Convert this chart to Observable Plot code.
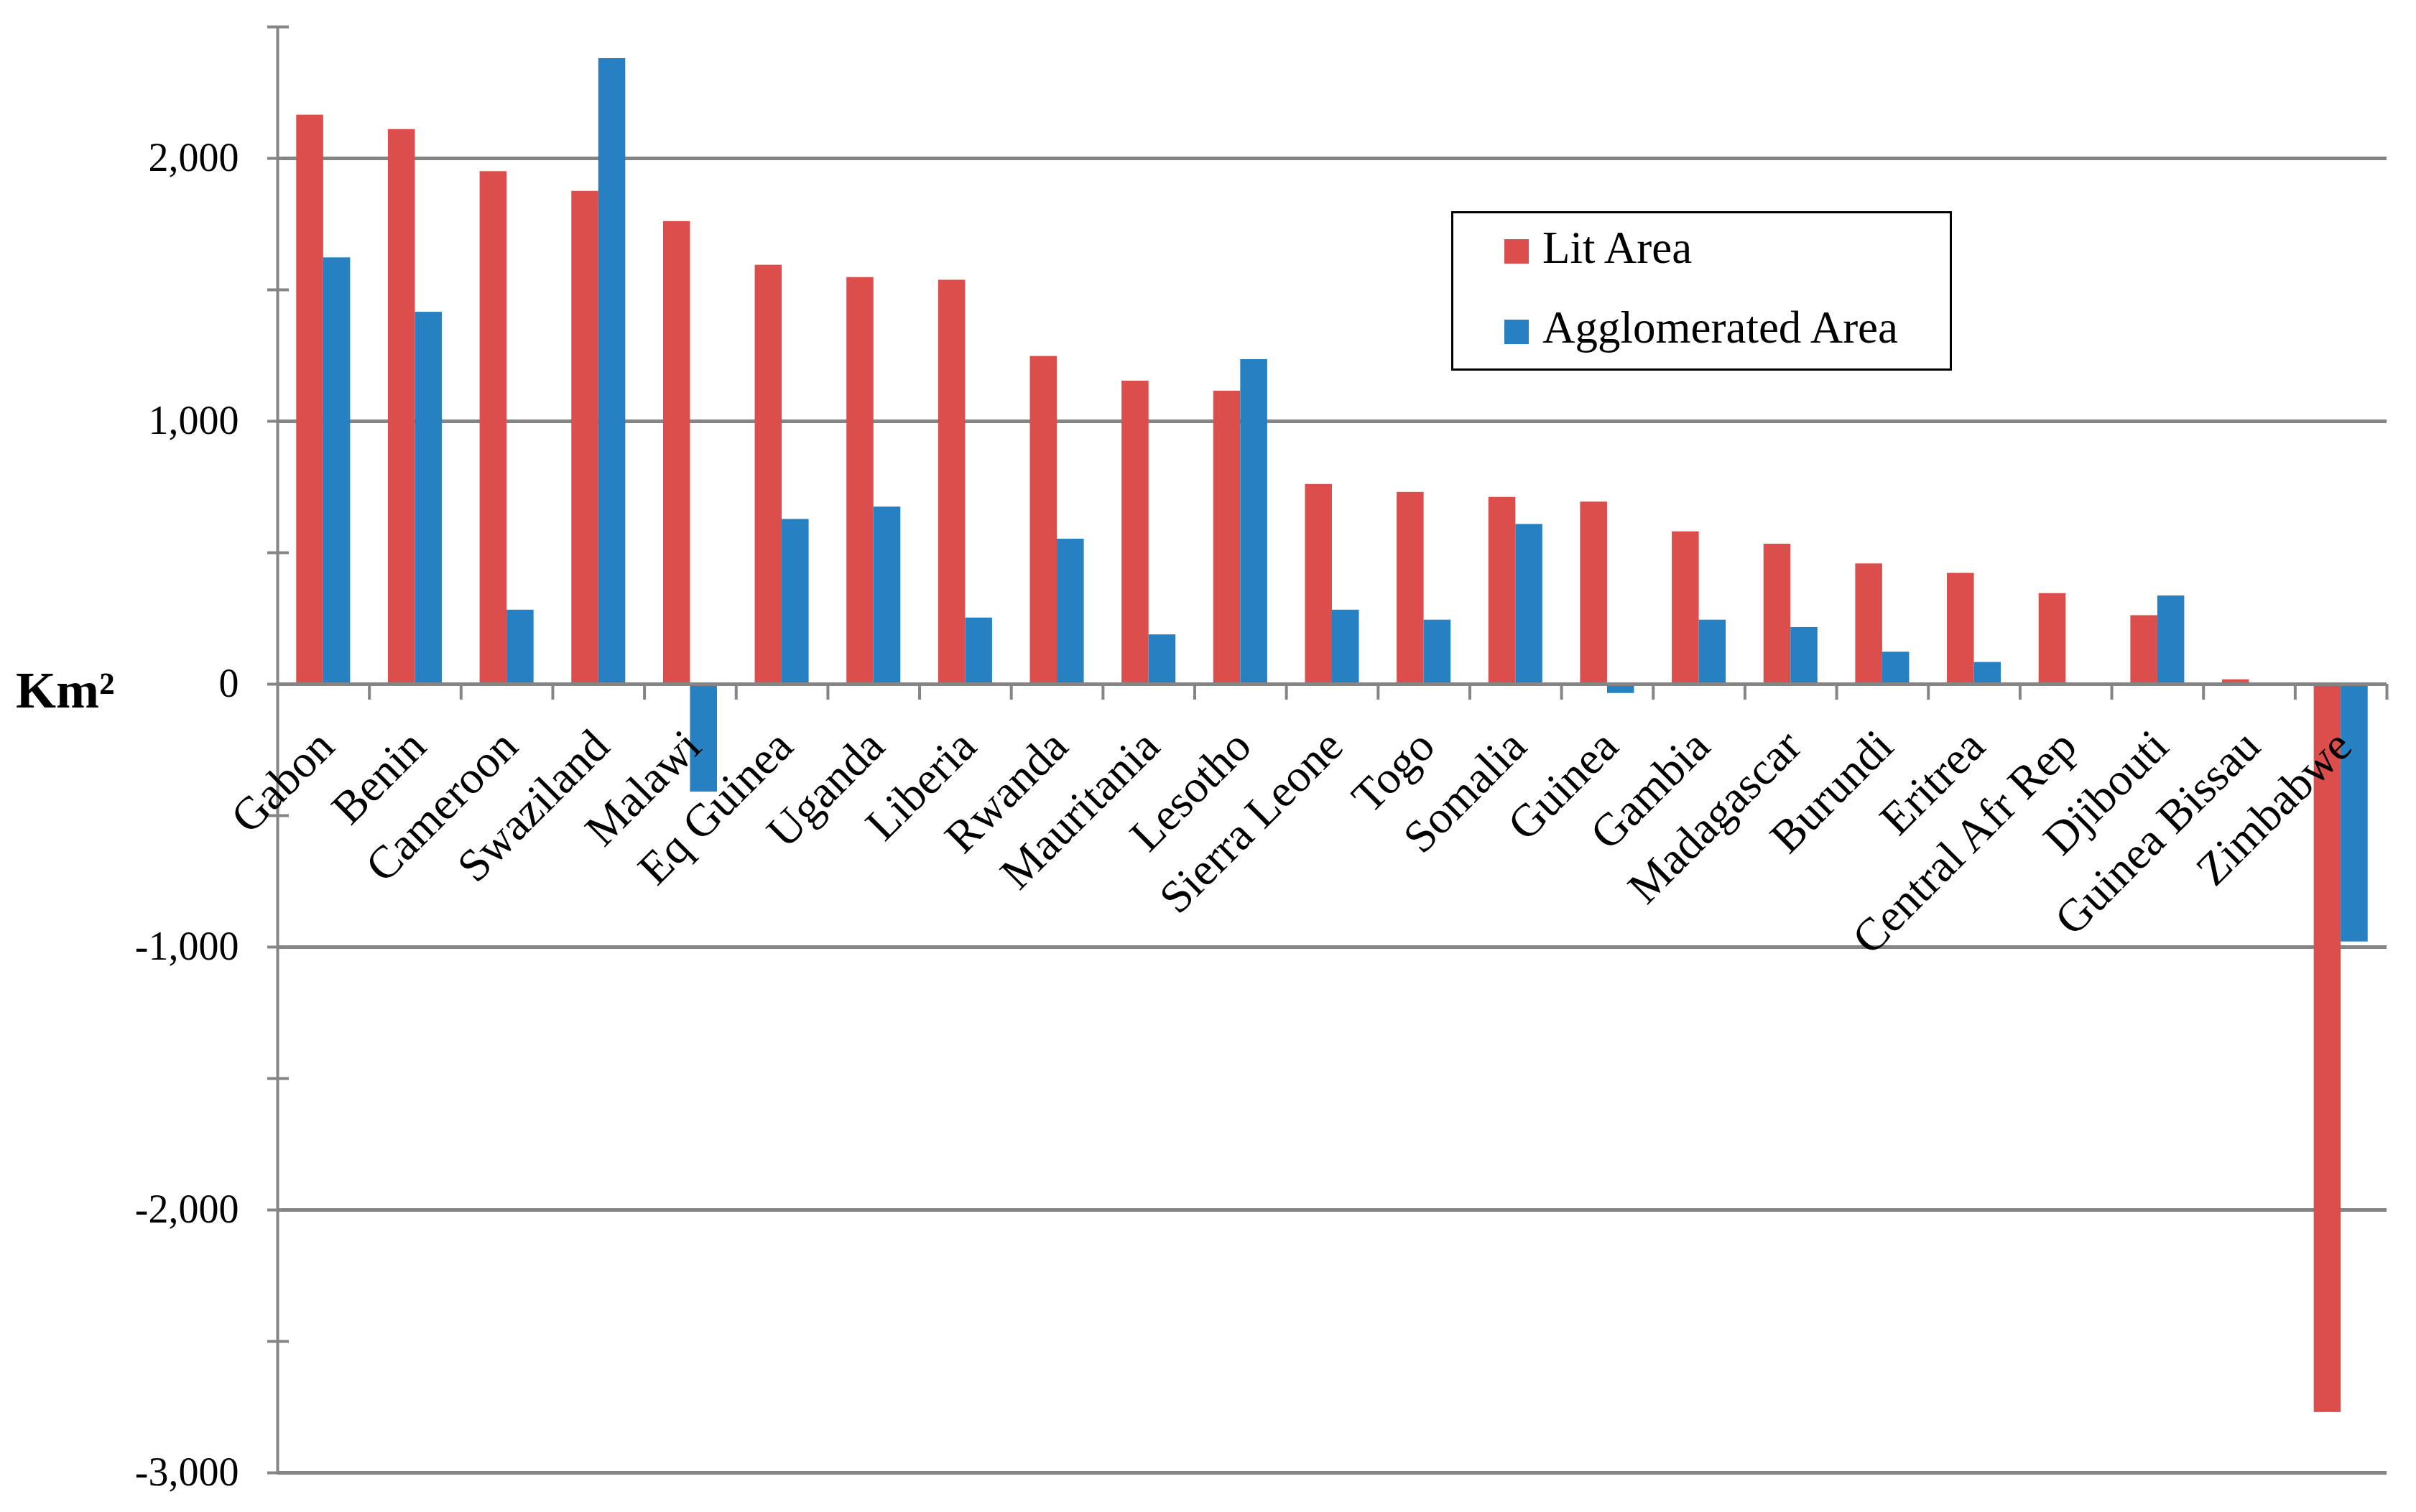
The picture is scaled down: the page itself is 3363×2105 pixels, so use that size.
<!DOCTYPE html>
<html>
<head>
<meta charset="utf-8">
<script src="https://cdn.jsdelivr.net/npm/d3@7"></script>
<script src="https://cdn.jsdelivr.net/npm/@observablehq/plot@0.6"></script>
<style>
html, body { margin: 0; padding: 0; background: #fff; overflow: hidden; }
#wrap { position: relative; width: 3363px; height: 2105px; }
#legend { position: absolute; left: 2020px; top: 294px; width: 697px; height: 222px; box-sizing: border-box;
  border: 3px solid #000; background: #fff; font-family: "Liberation Serif", serif; font-size: 63px; color: #000; }
.sw { position: absolute; left: 71px; width: 34px; height: 34px; }
.lab { position: absolute; left: 124px; line-height: 1; white-space: nowrap; }
#ylab { position: absolute; left: 22px; top: 925px; font-family: "Liberation Serif", serif; font-weight: bold;
  font-size: 72px; line-height: 1; color: #000; }
</style>
</head>
<body>
<div id="wrap">
  <div id="chart"></div>
  <div id="ylab">Km²</div>
  <div id="legend">
    <div class="sw" style="top:36px;background:#DB4E4B"></div>
    <div class="lab" style="top:17px">Lit Area</div>
    <div class="sw" style="top:148px;background:#2680C2"></div>
    <div class="lab" style="top:128px">Agglomerated Area</div>
  </div>
</div>
<script>
const countries = ["Gabon","Benin","Cameroon","Swaziland","Malawi","Eq Guinea","Uganda","Liberia","Rwanda","Mauritania","Lesotho","Sierra Leone","Togo","Somalia","Guinea","Gambia","Madagascar","Burundi","Eritrea","Central Afr Rep","Djibouti","Guinea Bissau","Zimbabwe"];
const litArea = [2165,2110,1950,1875,1760,1594,1547,1537,1247,1153,1115,760,730,711,693,580,533,458,422,345,261,17,-2770];
const agglomeratedArea = [1622,1415,282,2380,-410,627,674,252,552,188,1235,282,244,608,-35,244,216,122,83,0,336,0,-980];
const yLabelTicks = [2000,1000,0,-1000,-2000,-3000];
const yMinorTicks = [2500,2000,1500,1000,500,0,-500,-1000,-1500,-2000,-2500,-3000];

const W = 3363, H = 2105;
const mL = 386, mR = 41, mT = 37, mB = 55;
const bw = (W - mL - mR) / countries.length;
const gray = "#858585", red = "#DB4E4B", blue = "#2680C2";
const fmt = d => d.toLocaleString("en-US");

const chart = Plot.plot({
  width: W, height: H,
  marginLeft: mL, marginRight: mR, marginTop: mT, marginBottom: mB,
  style: {fontFamily: "Liberation Serif, serif", fontSize: "56px", color: "#000", background: "#fff"},
  x: {type: "band", domain: countries, padding: 0, round: false, axis: null},
  y: {domain: [-3000, 2500], axis: null},
  marks: [
    Plot.ruleY(yLabelTicks, {stroke: gray, strokeWidth: 5, strokeOpacity: 1}),
    Plot.barY(countries, {x: d => d, y: (d, i) => litArea[i], fill: red, insetLeft: bw * 0.206, insetRight: bw * 0.5}),
    Plot.barY(countries, {x: d => d, y: (d, i) => agglomeratedArea[i], fill: blue, insetLeft: bw * 0.5, insetRight: bw * 0.206}),
    Plot.ruleY([0], {stroke: gray, strokeWidth: 5, strokeOpacity: 1}),
    Plot.ruleX([countries[0]], {x: d => d, dx: -bw / 2, y1: -3000, y2: 2500, stroke: gray, strokeWidth: 4, strokeOpacity: 1}),
    Plot.axisY(yMinorTicks, {tickSize: 30, dx: 16, tickFormat: () => "", stroke: gray, strokeWidth: 4, strokeOpacity: 1}),
    Plot.axisY(yLabelTicks, {tickSize: 0, tickPadding: 54, tickFormat: fmt, fontSize: 56, fill: "#000", fontFamily: "Liberation Serif, serif"}),
    Plot.ruleX(countries.slice(1), {x: d => d, dx: -bw / 2, y1: 0, y2: 0, insetBottom: -22, stroke: gray, strokeWidth: 4, strokeOpacity: 1}),
    Plot.ruleX([countries[countries.length - 1]], {x: d => d, dx: bw / 2, y1: 0, y2: 0, insetBottom: -22, stroke: gray, strokeWidth: 4, strokeOpacity: 1}),
    Plot.text(countries, {x: d => d, y: () => 0, text: d => d, rotate: -45, textAnchor: "end", lineAnchor: "top",
      dx: -14, dy: 58, fontSize: 64, fill: "#000", fontFamily: "Liberation Serif, serif"})
  ]
});
document.getElementById("chart").appendChild(chart);
</script>
</body>
</html>
